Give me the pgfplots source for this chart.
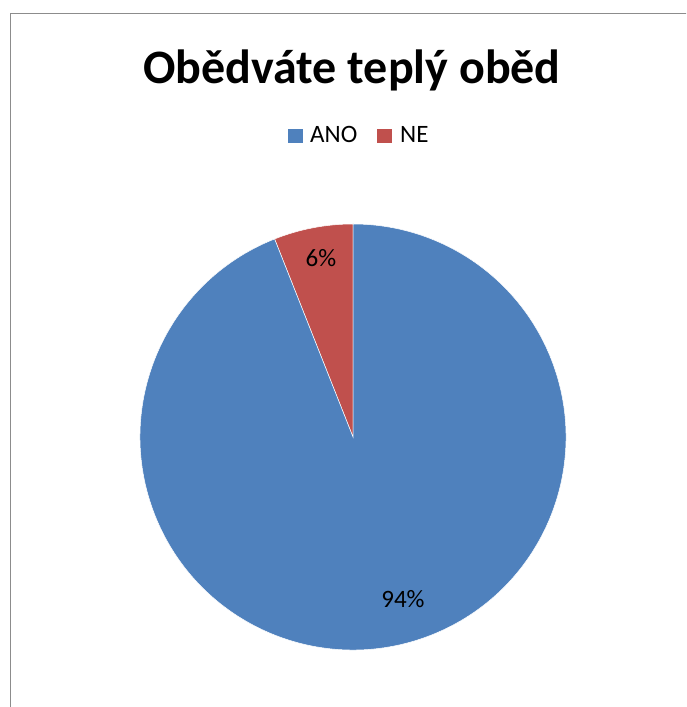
\documentclass[border=0pt]{standalone}
\usepackage{pgfplots}
\usepackage{pgfplotstable}
\pgfplotsset{compat=1.18}
\usepackage{fontspec}
\setmainfont{Carlito}

\definecolor{anoBlue}{HTML}{4F81BD}
\definecolor{neRed}{HTML}{C0504D}
\definecolor{frameGray}{HTML}{8C8C8C}

% shares of the answers (percent)
\pgfplotstableread{
label value
ANO   94
NE    6
}\piedata

\begin{document}
\begin{tikzpicture}
\pgfplotstablegetelem{0}{value}\of\piedata \edef\vAno{\pgfplotsretval}
\pgfplotstablegetelem{1}{value}\of\piedata \edef\vNe{\pgfplotsretval}
\pgfmathsetmacro{\aSplit}{90+3.6*\vNe}
\clip (0,0) rectangle (686pt,707pt);
\useasboundingbox (0,0) rectangle (686pt,707pt);
\begin{axis}[
  anchor=south west, at={(0,0)},
  width=686pt, height=707pt, scale only axis,
  xmin=0, xmax=686, ymin=0, ymax=707,
  hide axis, clip=false,
]
% outer frame of the chart area
\draw[frameGray, line width=1.3pt] (axis cs:10.5,-30) rectangle (axis cs:720,693.5);

% title
\node[anchor=base, font=\fontsize{48}{56}\selectfont\bfseries, inner sep=0]
  at (axis cs:352,623) {Obědváte teplý oběd};

% legend
\fill[anoBlue] (axis cs:288,564) rectangle (axis cs:303,578);
\node[anchor=base west, inner sep=0, font=\fontsize{25}{30}\selectfont] at (axis cs:310,564) {ANO};
\fill[neRed] (axis cs:377,564) rectangle (axis cs:392,578);
\node[anchor=base west, inner sep=0, font=\fontsize{25}{30}\selectfont] at (axis cs:400,564) {NE};

% slices, NE counter-clockwise from the top, ANO the rest
\filldraw[fill=neRed, draw=white, line width=0.5pt]
  (axis cs:353,270) -- ++(90:213pt) arc[start angle=90, end angle=\aSplit, radius=213pt] -- cycle;
\filldraw[fill=anoBlue, draw=white, line width=0.5pt]
  (axis cs:353,270) -- ++(\aSplit:213pt) arc[start angle=\aSplit, end angle=450, radius=213pt] -- cycle;

% data labels
\node[anchor=base, inner sep=0, font=\fontsize{25}{30}\selectfont] at (axis cs:321,440) {\vNe\%};
\node[anchor=base, inner sep=0, font=\fontsize{25}{30}\selectfont] at (axis cs:403,99) {\vAno\%};
\end{axis}
\end{tikzpicture}
\end{document}
